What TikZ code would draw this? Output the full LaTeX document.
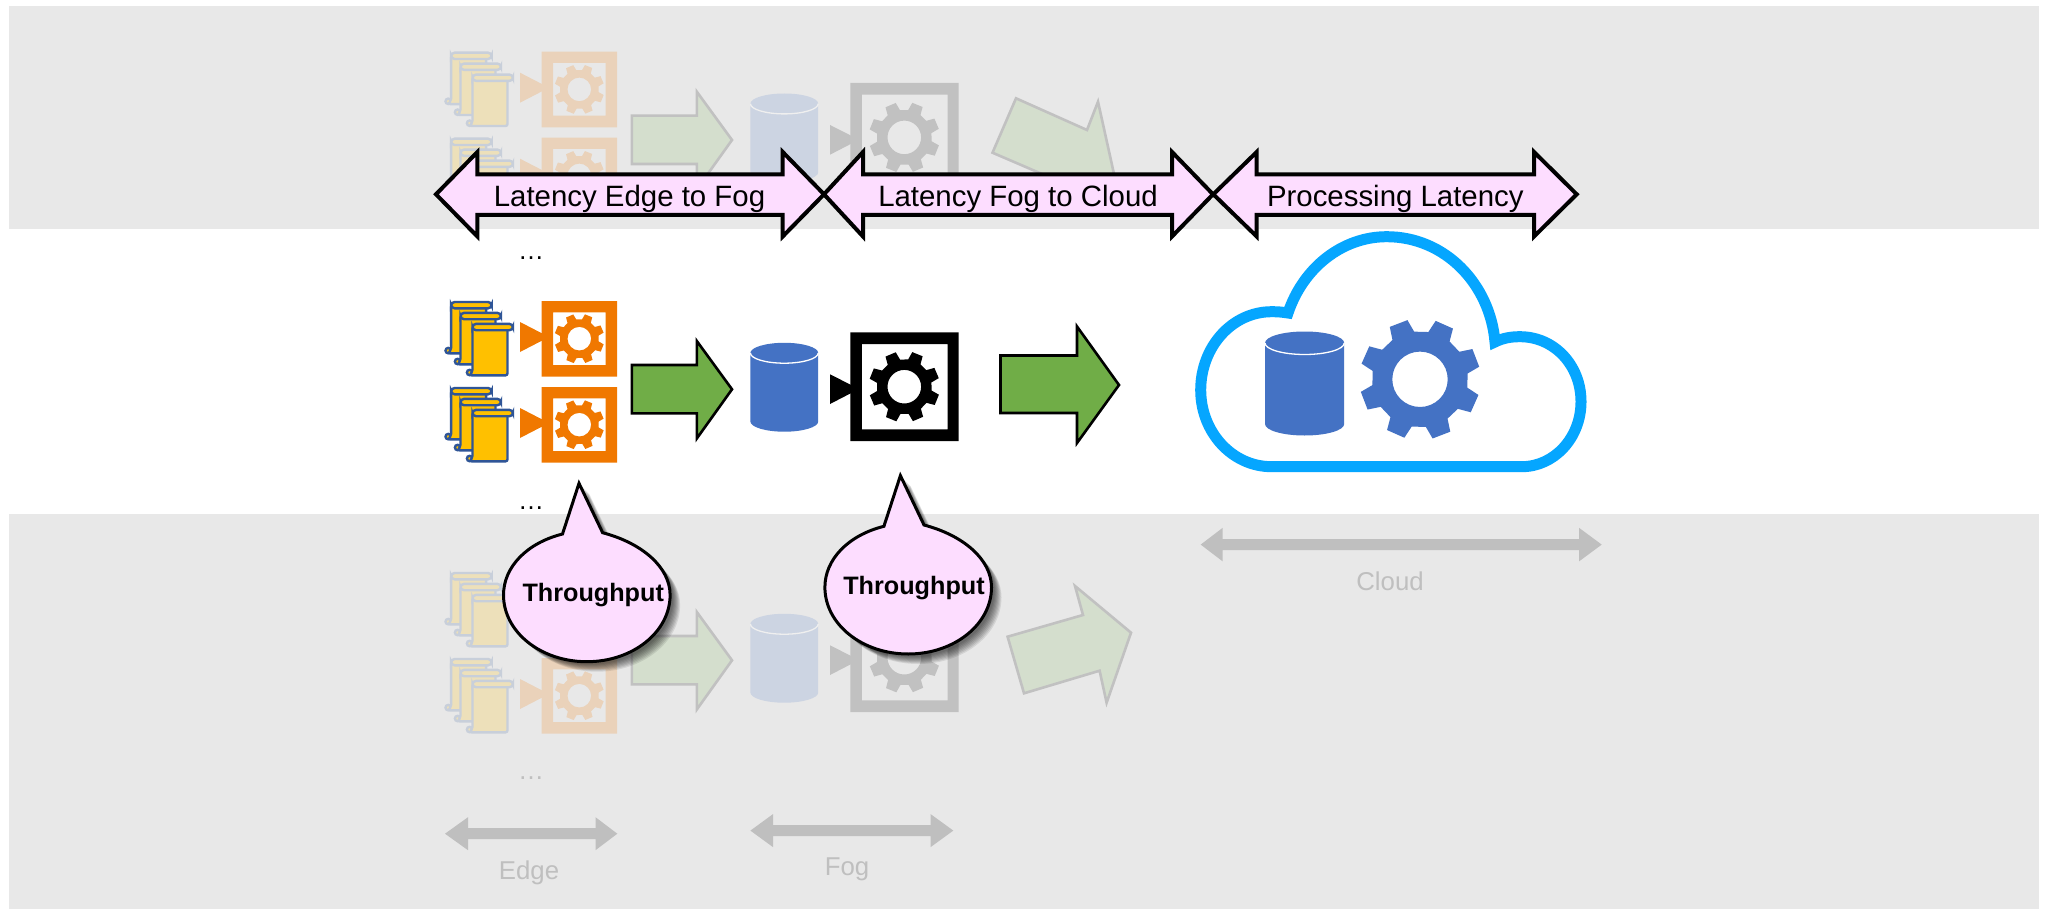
\documentclass[tikz,border=0pt]{standalone}
\usepackage{fontspec}
\setmainfont{Liberation Sans}
\definecolor{bandgray}{HTML}{E8E8E8}
\definecolor{rawOr}{HTML}{F07800}
\definecolor{rawYe}{HTML}{FFC000}
\definecolor{rawBl}{HTML}{2F5597}
\definecolor{rawGr}{HTML}{70AD47}
\definecolor{rawCy}{HTML}{4472C4}
\definecolor{pinkfill}{HTML}{FDDDFF}
\definecolor{cloudblue}{HTML}{05A6FF}
\definecolor{fadegray}{HTML}{BFBFBF}
\newcommand{\setfull}{%
  \colorlet{cOr}{rawOr}\colorlet{cYe}{rawYe}\colorlet{cBl}{rawBl}\colorlet{cGr}{rawGr}%
  \colorlet{cCy}{rawCy}\colorlet{cBk}{black}\colorlet{cWh}{white}}
\newcommand{\setfade}{%
  \colorlet{cOr}{rawOr!20!bandgray}\colorlet{cYe}{rawYe!20!bandgray}\colorlet{cBl}{rawBl!17!bandgray}\colorlet{cGr}{rawGr!17!bandgray}%
  \colorlet{cCy}{rawCy!17!bandgray}\colorlet{cBk}{black!17!bandgray}\colorlet{cWh}{white!30!bandgray}}
% gear: cx cy R r hole colour rotation
\newcommand{\gearshape}[7]{%
  \begin{scope}[shift={(#1,#2)}]
    \fill[#6,even odd rule] (#7-31:#4)
      \foreach \ga in {0,45,...,315} { -- (#7+\ga-14:#4) -- (#7+\ga-9:#3) -- (#7+\ga+9:#3) -- (#7+\ga+14:#4) } -- cycle
      (0,0) circle[radius=#5];
  \end{scope}}
\newcommand{\scrollshape}[2]{%
  \begin{scope}[shift={(#1,#2)}]
    \filldraw[cBl,line width=2.4pt,fill=cYe] (3.6,49.8) circle[radius=2.7];
    \filldraw[cBl,line width=2.4pt,fill=cYe,rounded corners=2pt] (6.5,4) -- (41.5,4) -- (41.5,52.6) -- (3.6,52.6) -- (6.5,49) -- cycle;
    \filldraw[cBl,line width=2.4pt,fill=cYe,rounded corners=3.5pt] (6.5,1.2) -- (47,1.2) -- (47,7.5) -- (6.5,7.5) -- cycle;
  \end{scope}}
\newcommand{\edgeunit}[1]{%
  \begin{scope}[shift={(0,#1)}]
    \scrollshape{444.6}{300.8}\scrollshape{454}{311.7}\scrollshape{466}{322.7}
    \fill[cOr] (520,322) -- (549,337) -- (520,352) -- cycle;
    \fill[cOr,even odd rule] (541.5,301) rectangle (617,376.7) (553,312.3) rectangle (605.7,365);
    \gearshape{579.3}{338.7}{25}{19.5}{11.8}{cOr}{22}
  \end{scope}}
\newcommand{\rowset}{%
  \edgeunit{0}\edgeunit{86}
  \filldraw[fill=cGr,draw=cBk,line width=2.6pt,miter limit=10]
    (631.8,365) -- (696.8,365) -- (696.8,341) -- (732,389.3) -- (696.8,438.5) -- (696.8,413.3) -- (631.8,413.3) -- cycle;
  \fill[cCy] (750.4,353) -- (750.4,421.5) arc[start angle=180,end angle=360,x radius=33.9,y radius=-10.2] -- (818.2,353) arc[start angle=0,end angle=180,x radius=33.9,y radius=-10.2] -- cycle;
  \draw[cWh,line width=1.3pt] (750.4,353) arc[start angle=180,end angle=360,x radius=33.9,y radius=-10.2];
  \fill[cBk] (830,374.3) -- (859,389) -- (830,404) -- cycle;
  \fill[cBk,even odd rule] (850.4,332.3) rectangle (958.6,441) (861.8,344) rectangle (947.5,429.3);
  \gearshape{904.3}{386.7}{35.5}{27.5}{16.8}{cBk}{22}
}
\tikzset{
  banner/.style={fill=pinkfill,draw=black,line width=4pt,miter limit=10},
  banlabel/.style={anchor=base,inner sep=0pt,font=\fontsize{29.4}{32}\selectfont},
  saylabel/.style={anchor=base,inner sep=0pt,font=\bfseries\fontsize{25.2}{28}\selectfont},
  fadelabel/.style={anchor=base,inner sep=0pt,text=fadegray,font=\fontsize{25.8}{28}\selectfont},
  dotslabel/.style={anchor=base,inner sep=0pt,font=\fontsize{26}{28}\selectfont},
  greyarrow/.style={fill=fadegray,draw=none},
  say/.style={fill=pinkfill,draw=black,line width=3pt,miter limit=10}
}
% double banner arrow: x0 xh1 xh2 x1
\newcommand{\bannerarrow}[4]{%
  \filldraw[banner] (#1,194.3) -- (#2,152) -- (#2,174.5) -- (#3,174.5) -- (#3,152) -- (#4,194.3) -- (#3,236.5) -- (#3,215) -- (#2,215) -- (#2,236.5) -- cycle;}
% x0 xh1 xh2 x1 yc shaft/2 head/2
\newcommand{\greyarrowshape}[7]{%
  \fill[greyarrow] (#1,#5) -- (#2,#5-#7) -- (#2,#5-#6) -- (#3,#5-#6) -- (#3,#5-#7) -- (#4,#5) -- (#3,#5+#7) -- (#3,#5+#6) -- (#2,#5+#6) -- (#2,#5+#7) -- cycle;}
\newcommand{\sayshape}[3]{%
  \begin{scope}[shift={(#1,#2)}]
    #3 (-24.3,-61) -- (-7.8,-111.7) -- (15.8,-62.3) .. controls (55,-52) and (83.3,-28) .. (83.3,0) .. controls (83.3,37) and (46,66.7) .. (0,66.7) .. controls (-46,66.7) and (-83.3,37) .. (-83.3,0) .. controls (-83.3,-28) and (-60,-52) .. (-24.3,-61) -- cycle;
  \end{scope}}
\begin{document}
\begin{tikzpicture}[x=1pt,y=-1pt]
  \useasboundingbox (0,0) rectangle (2049,909);
  \fill[white] (0,0) rectangle (2049,909);
  \fill[bandgray] (9,6) rectangle (2039,229);
  \fill[bandgray] (9,514) rectangle (2039,909);
  % faded copies
  \setfade
  \begin{scope}[shift={(0,-249.3)}]\rowset\end{scope}
  \begin{scope}[shift={(0,271)}]\rowset\end{scope}
  \filldraw[fill=cGr,draw=cBk,line width=2.6pt,miter limit=10]
    (1016,98.3) -- (1087,130) -- (1098,101.7) -- (1114,174) -- (1050,211) -- (1063,183) -- (992.5,152.7) -- cycle;
  \filldraw[fill=cGr,draw=cBk,line width=2.6pt,miter limit=10]
    (1007.6,636.7) -- (1083,615) -- (1075,586) -- (1131,632.7) -- (1106.6,702.7) -- (1099.6,670.7) -- (1024,693.3) -- cycle;
  \node[dotslabel,text=fadegray] (dotsfade) at (531,779) {…};
  % full centre row
  \setfull
  \rowset
  \filldraw[fill=cGr,draw=black,line width=2.6pt,miter limit=10]
    (1000.5,355.5) -- (1077,355.5) -- (1077,326.5) -- (1119,385) -- (1077,443) -- (1077,413) -- (1000.5,413) -- cycle;
  \node[dotslabel] (dotsup) at (531,260) {…};
  \node[dotslabel] (dotsdown) at (531,509) {…};
  % cloud
  \draw[cloudblue,line width=11pt,line join=miter,miter limit=10]
    (1271.7,466.7) .. controls (1232,466.7) and (1200.7,432) .. (1200.7,390)
    .. controls (1200.7,347) and (1232,311.7) .. (1271.7,311.7)
    .. controls (1277,311.7) and (1282,312) .. (1288,313)
    .. controls (1303,268) and (1342,236.7) .. (1386.7,236.7)
    .. controls (1445,236.7) and (1490,284) .. (1495,342)
    .. controls (1503,338) and (1511,336.7) .. (1520,336.7)
    .. controls (1554,336.7) and (1581,365) .. (1581,401.7)
    .. controls (1581,438) and (1554,466.7) .. (1521.7,466.7) -- cycle;
  \fill[rawCy] (1265,343) -- (1265,424) arc[start angle=180,end angle=360,x radius=39.6,y radius=-11.5] -- (1344.2,343) arc[start angle=0,end angle=180,x radius=39.6,y radius=-11.5] -- cycle;
  \draw[white,line width=1.3pt] (1265,343) arc[start angle=180,end angle=360,x radius=39.6,y radius=-11.5];
  \gearshape{1420}{379.3}{60.5}{48}{27.7}{rawCy}{24}
  % banners
  \bannerarrow{436}{477.4}{782.7}{824}
  \bannerarrow{824}{863}{1172}{1213}
  \bannerarrow{1213.3}{1256.7}{1534}{1576.7}
  \node[banlabel] (lat1) at (629.5,206.2) {Latency Edge to Fog};
  \node[banlabel] (lat2) at (1018,206.2) {Latency Fog to Cloud};
  \node[banlabel] (lat3) at (1395.3,206.2) {Processing Latency};
  % grey range arrows
  \greyarrowshape{445}{468}{595.5}{617.3}{833.7}{5.5}{16.5}
  \greyarrowshape{750.4}{773}{930.6}{953.3}{830.6}{5.5}{16.5}
  \greyarrowshape{1200.7}{1222.7}{1579}{1601.7}{544.6}{5.5}{16.8}
  \node[fadelabel] (edgeL) at (529,879) {Edge};
  \node[fadelabel] (fogL) at (847,875) {Fog};
  \node[fadelabel] (cloudL) at (1390,590) {Cloud};
  % callouts
  \foreach \s in {1,...,8}{
    \sayshape{586.8+2+\s}{595+2+\s}{\fill[black,opacity=.09]}
    \sayshape{908.2+2+\s}{587.3+2+\s}{\fill[black,opacity=.09]}
  }
  \sayshape{586.8}{595}{\filldraw[say]}
  \sayshape{908.2}{587.3}{\filldraw[say]}
  \node[saylabel] (thr1) at (593.2,601.7) {Throughput};
  \node[saylabel] (thr2) at (914,594) {Throughput};
\end{tikzpicture}
\end{document}
